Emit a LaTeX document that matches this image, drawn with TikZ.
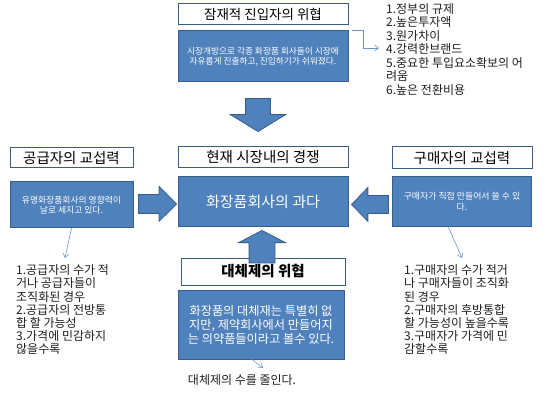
\documentclass[tikz,border=0pt]{standalone}
\usepackage{fontspec}
\setmainfont{Noto Sans CJK KR}
\usepackage{tikz}
\usetikzlibrary{arrows.meta,positioning,shapes.arrows}
\definecolor{offBlue}{RGB}{79,129,189}
\definecolor{offBorder}{RGB}{56,93,138}
\definecolor{lineBlue}{RGB}{110,150,205}
\definecolor{listGray}{RGB}{30,30,30}
\tikzset{
  titlebox/.style={rectangle,draw=offBorder,line width=1pt,fill=white,inner sep=0pt,font=\fontsize{14.5}{16}\selectfont},
  descbox/.style={rectangle,draw=offBorder,line width=0.8pt,fill=offBlue,text=white,align=center,inner sep=0pt},
  blockarr/.style={single arrow,draw=offBorder,line width=0.8pt,fill=offBlue,single arrow head indent=0pt},
  listtext/.style={align=left,inner sep=0pt,anchor=north west,text=listGray,font=\fontsize{12}{13.2}\selectfont},
  thinarr/.style={-{Straight Barb[length=4pt,width=6pt]},draw=lineBlue,line width=0.6pt}
}

\begin{document}
\begin{tikzpicture}[x=1pt,y=-1pt]
  \useasboundingbox (0,0) rectangle (550,404);

  %% Threat of new entrants (top)
  \node[titlebox,font=\fontsize{13.5}{15}\selectfont,minimum width=170pt,minimum height=21pt] (entry) at (263,14.5)
    {잠재적 진입자의 위협};
  \node[descbox,font=\fontsize{8.7}{10}\selectfont,minimum width=170pt,minimum height=51pt,below=5pt of entry] (entrydesc)
    {시장개방으로 각종 화장품 회사들이 시장에\\자유롭게 진출하고, 진입하기가 쉬워졌다.};
  \node[listtext,font=\fontsize{12}{13.5}\selectfont] (entrylist) at (386,3)
    {1.정부의 규제\\2.높은투자액\\3.원가차이\\4.강력한브랜드\\5.중요한 투입요소확보의 어\\려움\\6.높은 전환비용};
  \coordinate (brand) at (379,48);

  %% Rivalry (centre)
  \node[titlebox,minimum width=170pt,minimum height=21pt] (rivalry) at (263,157.5)
    {현재 시장내의 경쟁};
  \node[descbox,font=\fontsize{15}{16}\selectfont,minimum width=170pt,minimum height=50pt,below=8pt of rivalry] (rivaldesc)
    {화장품회사의 과다};

  %% Suppliers (left)
  \node[titlebox,minimum width=123pt,minimum height=20pt] (supplier) at (71.5,158)
    {공급자의 교섭력};
  \node[descbox,font=\fontsize{8.8}{10}\selectfont,minimum width=123pt,minimum height=46pt,below=13pt of supplier] (supdesc)
    {유명화장품회사의 영향력이\\날로 세지고 있다.};
  \node[listtext] (suplist) at (16,264.5)
    {1.공급자의 수가 적\\거나 공급자들이\\조직화된 경우\\2.공급자의 전방통\\합 할 가능성\\3.가격에 민감하지\\않을수록};
  \coordinate (supend) at (65,258);

  %% Buyers (right)
  \node[titlebox,minimum width=140pt,minimum height=22pt] (buyer) at (462,158)
    {구매자의 교섭력};
  \node[descbox,font=\fontsize{8.9}{10.5}\selectfont,minimum width=139pt,minimum height=50pt,below=7pt of buyer] (buydesc)
    {구매자가 직접 만들어서 쓸 수 있\\다.};
  \node[listtext] (buylist) at (404,264.5)
    {1.구매자의 수가 적거\\나 구매자들이 조직화\\된 경우\\2.구매자의 후방통합\\할 가능성이 높을수록\\3.구매자가 가격에 민\\감할수록};
  \coordinate (buyend) at (462,258);

  %% Substitutes (bottom)
  \node[titlebox,font=\fontsize{14.5}{16}\selectfont\bfseries,minimum width=164pt,minimum height=27pt] (subst) at (263,271.5)
    {대체제의 위협};
  \node[descbox,font=\fontsize{12.2}{14}\selectfont,minimum width=166pt,minimum height=69pt] (subdesc) at (261,324.5)
    {화장품의 대체재는 특별히 없\\지만, 제약회사에서 만들어지\\는 의약품들이라고 볼수 있다.};
  \node[text=listGray,inner sep=0pt,font=\fontsize{12}{13}\selectfont] (subnote) at (242,380)
    {대체제의 수를 줄인다.};
  \coordinate (subend) at (263,368);

  %% Block arrows into the centre
  \node[blockarr,shape border rotate=270,inner sep=12pt,minimum height=33pt,minimum width=55pt,
        single arrow head extend=15.5pt,single arrow tip angle=117,anchor=tip] (downarr) at (258,132) {};
  \node[blockarr,inner sep=9pt,minimum height=38pt,minimum width=34pt,
        single arrow head extend=8pt,single arrow tip angle=90,anchor=tip] (rightarr) at (177,204) {};
  \node[blockarr,shape border rotate=180,inner sep=8.5pt,minimum height=37pt,minimum width=33pt,
        single arrow head extend=8pt,single arrow tip angle=92,anchor=tip] (leftarr) at (351,204.5) {};
  \node[blockarr,shape border rotate=90,inner sep=12.5pt,minimum height=25pt,minimum width=46pt,
        single arrow head extend=10.5pt,single arrow tip angle=125,anchor=tip] (uparr) at (262,230) {};

  %% Thin pointers to the lists
  \draw[thinarr] ([xshift=4pt]entrydesc.north east) -| ([xshift=-16pt]brand) -- (brand);
  \draw[thinarr] (supdesc.south) -- (supend);
  \draw[thinarr] ([xshift=-13.5pt]buydesc.south) -- (buyend);
  \draw[thinarr] ([xshift=-9pt]subdesc.south) -- (subend);
\end{tikzpicture}
\end{document}
